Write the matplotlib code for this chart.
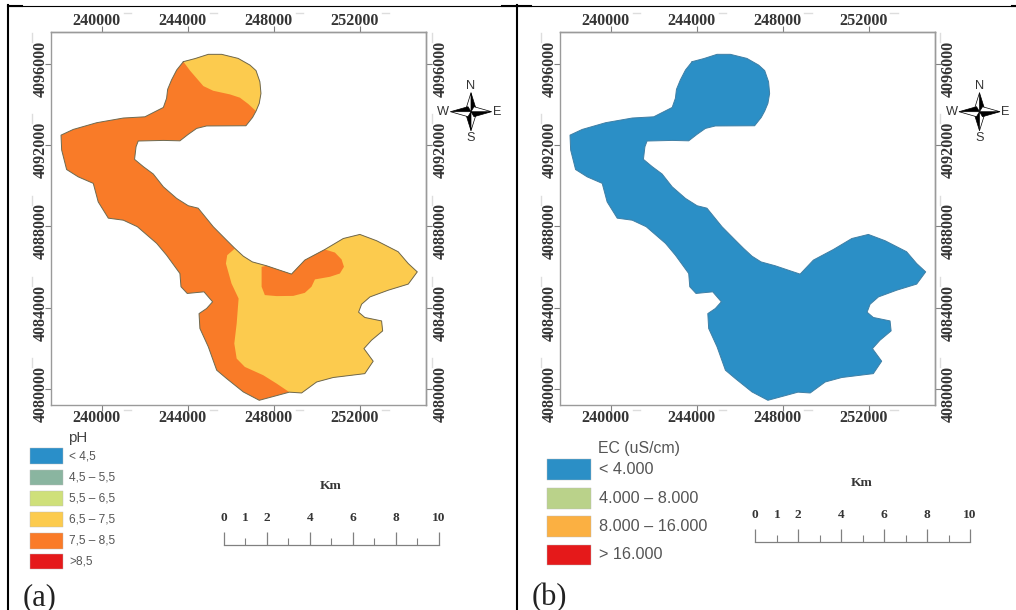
import numpy as np
import matplotlib
matplotlib.use("Agg")
import matplotlib.pyplot as plt
from matplotlib.patches import Rectangle, Polygon
from matplotlib.transforms import ScaledTranslation

W, H = 1016, 610

outline_x = [243770,244310,244930,245550,246320,246870,247150,247330,247380,247300,247150,246990,246680,244850,244390,244000,243610,242840,241670,241570,241500,241910,242370,242840,243460,244000,244460,245160,245780,246170,246560,246980,247640,248260,248800,249420,250350,251210,251980,252760,253760,254230,254650,254230,253300,252450,252060,251920,252210,252990,253040,252520,252170,252600,252210,250740,249970,249270,248700,248110,247300,246560,245780,245320,244930,244540,244500,244850,245130,244730,243950,243660,243610,242990,242530,241630,240980,240280,239810,239580,238880,238340,238110,238080,238650,239740,240980,241980,242840,242990,243040,243220,243460]
outline_y = [4096100,4096250,4096460,4096460,4096260,4095930,4095660,4095110,4094540,4094050,4093670,4093360,4092950,4092940,4092820,4092530,4092210,4092230,4092200,4091920,4091300,4090940,4090580,4089950,4089380,4089020,4088900,4087990,4087330,4086920,4086540,4086260,4086070,4085850,4085660,4086350,4086870,4087410,4087610,4087300,4086760,4086180,4085770,4085170,4084870,4084540,4084180,4083790,4083530,4083360,4082870,4082410,4082000,4081380,4080770,4080580,4080360,4079820,4079860,4079690,4079460,4079870,4080530,4080940,4082090,4082990,4083720,4083970,4084300,4084790,4084710,4085040,4085690,4086590,4087170,4087990,4088310,4088410,4089210,4090120,4090440,4090800,4091760,4092490,4092770,4093100,4093330,4093390,4093850,4094300,4094740,4095200,4095690]

lobe_edge_x = [246790,246400,245940,245160,244700,244390,244080]
lobe_edge_y = [4094020,4094330,4094490,4094670,4094900,4095280,4095660]
south_edge_x = [248110,247490,246630,246250,246140,246250,246340,246010,245750,245810]
south_edge_y = [4080280,4080690,4081100,4081510,4082250,4083230,4084460,4085200,4086180,4086590]
island_edge_x = [247410,247410,247560,248110,248880,249420,249730,249890,250590,251050,251240,251130,250820]
island_edge_y = [4086020,4085040,4084630,4084580,4084590,4084740,4085040,4085400,4085530,4085690,4086020,4086380,4086720]

x_ticks = [240000,244000,248000,252000]
y_ticks = [4080000,4084000,4088000,4092000,4096000]
km_major = [0,2,4,6,8,10]
km_minor = [1,3,5,7,9]
km_labels = [0,1,2,4,6,8,10]

ph_labels = ["< 4,5","4,5 – 5,5","5,5 – 6,5","6,5 – 7,5","7,5 – 8,5",">8,5"]
ph_colors = ["#2A8FC9","#8AB5A0","#CFE07A","#FCCB4E","#FA7B28","#E5191A"]
ec_labels = ["< 4.000","4.000 – 8.000","8.000 – 16.000","> 16.000"]
ec_colors = ["#2B8FC6","#BAD28A","#FBB042","#E5191A"]

ORANGE, YELLOW, BLUE = "#F97B28", "#FCCB4E", "#2B8FC6"
EDGE = "#6E6A50"
TXT = "#353535"
TICK = "#808080"
SERIF = "Liberation Serif"
SANS = "Liberation Sans"

fig = plt.figure(figsize=(W/100, H/100), dpi=100, facecolor="white")

def pix_axes(l, t, r, b, **kw):
    return fig.add_axes([l/W, 1-b/H, (r-l)/W, (b-t)/H], **kw)

def nudge(labels, dx_px, dy_px):
    off = ScaledTranslation(dx_px/100, dy_px/100, fig.dpi_scale_trans)
    for lab in labels:
        lab.set_transform(lab.get_transform() + off)

def style_x(axis, pad):
    axis.set_xticks(x_ticks)
    axis.set_xticklabels([str(v) for v in x_ticks], family=SERIF, weight="bold", fontsize=11.6, color=TXT)
    axis.tick_params(axis="x", length=4.6, width=0.8, color=TICK, pad=pad)
    nudge(axis.get_xticklabels(), -5.5, 0)

def style_y(axis, pad):
    axis.set_yticks(y_ticks)
    axis.set_yticklabels([str(v) for v in y_ticks], family=SERIF, weight="bold", fontsize=11.6, color=TXT,
                         rotation=90, va="center")
    axis.tick_params(axis="y", length=4.6, width=0.8, color=TICK, pad=pad)
    nudge(axis.get_yticklabels(), 0, -5)

def make_map(l, t, r, b):
    ax = pix_axes(l, t, r, b)
    ax.set_xlim(237628, 255070)
    ax.set_ylim(4079214, 4097572)
    style_x(ax, -1.0)
    style_y(ax, -3.1)
    style_x(ax.secondary_xaxis("top"), -2.4)
    style_y(ax.secondary_yaxis("right"), -0.3)
    for a in ax.child_axes:
        for s in a.spines.values():
            s.set_color("#9A9A9A")
            s.set_linewidth(1.0)
    for s in ax.spines.values():
        s.set_color("#9A9A9A")
        s.set_linewidth(1.0)
    # faint dashes that sit beside the ticks
    xt, yt = ax.get_xaxis_transform(), ax.get_yaxis_transform()
    for v in x_ticks:
        for fy in (1.051, -0.0126):
            ax.plot([v+1000, v+1350], [fy, fy], transform=xt, color="#DDDDDD", lw=1.0, clip_on=False)
    for v in y_ticks:
        for fx in (-0.0515, 1.0144):
            ax.plot([fx, fx], [v+1080, v+1520], transform=yt, color="#DDDDDD", lw=1.0, clip_on=False)
    return ax

ox, oy = np.array(outline_x), np.array(outline_y)

# panel a
axa = make_map(51.3, 31.7, 426.3, 405.3)
axa.fill(ox, oy, color=ORANGE, lw=0, zorder=2)
axa.fill(np.r_[ox[:11], lobe_edge_x], np.r_[oy[:11], lobe_edge_y], color=YELLOW, lw=0, zorder=3)
axa.fill(np.r_[ox[29:59], south_edge_x], np.r_[oy[29:59], south_edge_y], color=YELLOW, lw=0, zorder=3)
axa.fill(np.r_[island_edge_x, ox[32:37][::-1]], np.r_[island_edge_y, oy[32:37][::-1]], color=ORANGE, lw=0, zorder=4)
axa.plot(np.r_[ox, ox[0]], np.r_[oy, oy[0]], color=EDGE, lw=0.7, zorder=5, solid_joinstyle="round")

# panel b
axb = make_map(560.3, 31.7, 934.7, 405.3)
axb.fill(ox, oy, color=BLUE, lw=0, zorder=2)
axb.plot(np.r_[ox, ox[0]], np.r_[oy, oy[0]], color="#3F7FA5", lw=0.7, zorder=5, solid_joinstyle="round")

# overlay in image pixels for page furniture
ov = fig.add_axes([0, 0, 1, 1], facecolor="none")
ov.set_xlim(0, W)
ov.set_ylim(H, 0)
ov.axis("off")

# table rules
ov.plot([8, W], [5.5, 5.5], color="black", lw=0.8)
ov.plot([8, 22], [5.5, 5.5], color="black", lw=1.5)
ov.plot([502, 531], [5.5, 5.5], color="black", lw=1.5)
ov.plot([1012, W], [5.5, 5.5], color="black", lw=1.5)
ov.plot([8, 8], [5, H], color="black", lw=1.5)
ov.plot([516.5, 516.5], [5, H], color="black", lw=1.5)

# legends
def legend(x0, x1, tops, h, tx, labels, colors, fs, tcol):
    for top, lab, c in zip(tops, labels, colors):
        ov.add_patch(Rectangle((x0, top), x1-x0, h, facecolor=c, edgecolor="#BBBBBB", lw=0.3))
        ov.text(tx, top+h/2, lab, family=SANS, fontsize=fs, color=tcol, va="center", ha="left")

legend(30, 63, [448.3,469.7,490.7,511.7,533,553.7], 15.7, 69, ph_labels, ph_colors, 8.6, "#555555")
ov.text(68, 438, "pH", family=SANS, fontsize=10.9, color="#444444", va="center", ha="left")
legend(546.7, 591, [459.3,488,516.3,544.7], 20.5, 599, ec_labels, ec_colors, 11.7, "#555555")
ov.text(598, 449, "EC (uS/cm)", family=SANS, fontsize=11.4, color="#555555", va="center", ha="left")

# scale bars
def scale(x0, x1, base, major_top, minor_top, num_y, km_x, km_y):
    h = base - major_top
    a = pix_axes(x0, major_top, x1, base, facecolor="none")
    a.set_xlim(0, 10)
    a.set_ylim(0, 1)
    a.axis("off")
    a.vlines(km_major, 0, 1, color="#808080", lw=0.9, clip_on=False)
    a.vlines(km_minor, 0, (base-minor_top)/h, color="#808080", lw=0.8, clip_on=False)
    a.plot([0, 10], [0, 0], color="#808080", lw=0.9, clip_on=False)
    for k in km_labels:
        a.text(k, 1+(major_top-num_y)/h, str(k), family=SERIF, weight="bold", fontsize=9.6,
               color=TXT, ha="center", va="center", clip_on=False)
    ov.text(km_x, km_y, "Km", family=SERIF, weight="bold", fontsize=9.7, color=TXT, ha="center", va="center")

scale(224, 438.7, 545.3, 532, 538, 518, 331, 486)
scale(755.3, 970, 541.7, 528.7, 535, 515, 862, 483)

# north arrows
def compass(cx, cy):
    R_ns, R_we, r = 19, 20.5, 5.0
    for dx, dy, R in [(0,-1,R_ns),(0,1,R_ns),(-1,0,R_we),(1,0,R_we)]:
        tip = (cx+dx*R, cy+dy*R)
        px, py = -dy, dx
        ov.add_patch(Polygon([(cx,cy), tip, (cx+dx*r*.6+px*r, cy+dy*r*.6+py*r)], closed=True,
                             facecolor="black", edgecolor="black", lw=0.5, zorder=6))
        ov.add_patch(Polygon([(cx,cy), tip, (cx+dx*r*.6-px*r, cy+dy*r*.6-py*r)], closed=True,
                             facecolor="white", edgecolor="black", lw=0.5, zorder=6))
    for t, dx, dy in [("N",0,-26),("S",0,26.5),("W",-28,0),("E",26,0.5)]:
        ov.text(cx+dx, cy+dy, t, family=SANS, fontsize=9.2, color="#333333", ha="center", va="center")

compass(471, 111.7)
compass(979.5, 111.7)

# panel tags
ov.text(22.5, 605, "(a)", family=SERIF, fontsize=22, color="#222222", va="baseline", ha="left")
ov.text(532, 605, "(b)", family=SERIF, fontsize=22, color="#222222", va="baseline", ha="left")

fig.savefig("out.png", dpi=100, facecolor="white")
